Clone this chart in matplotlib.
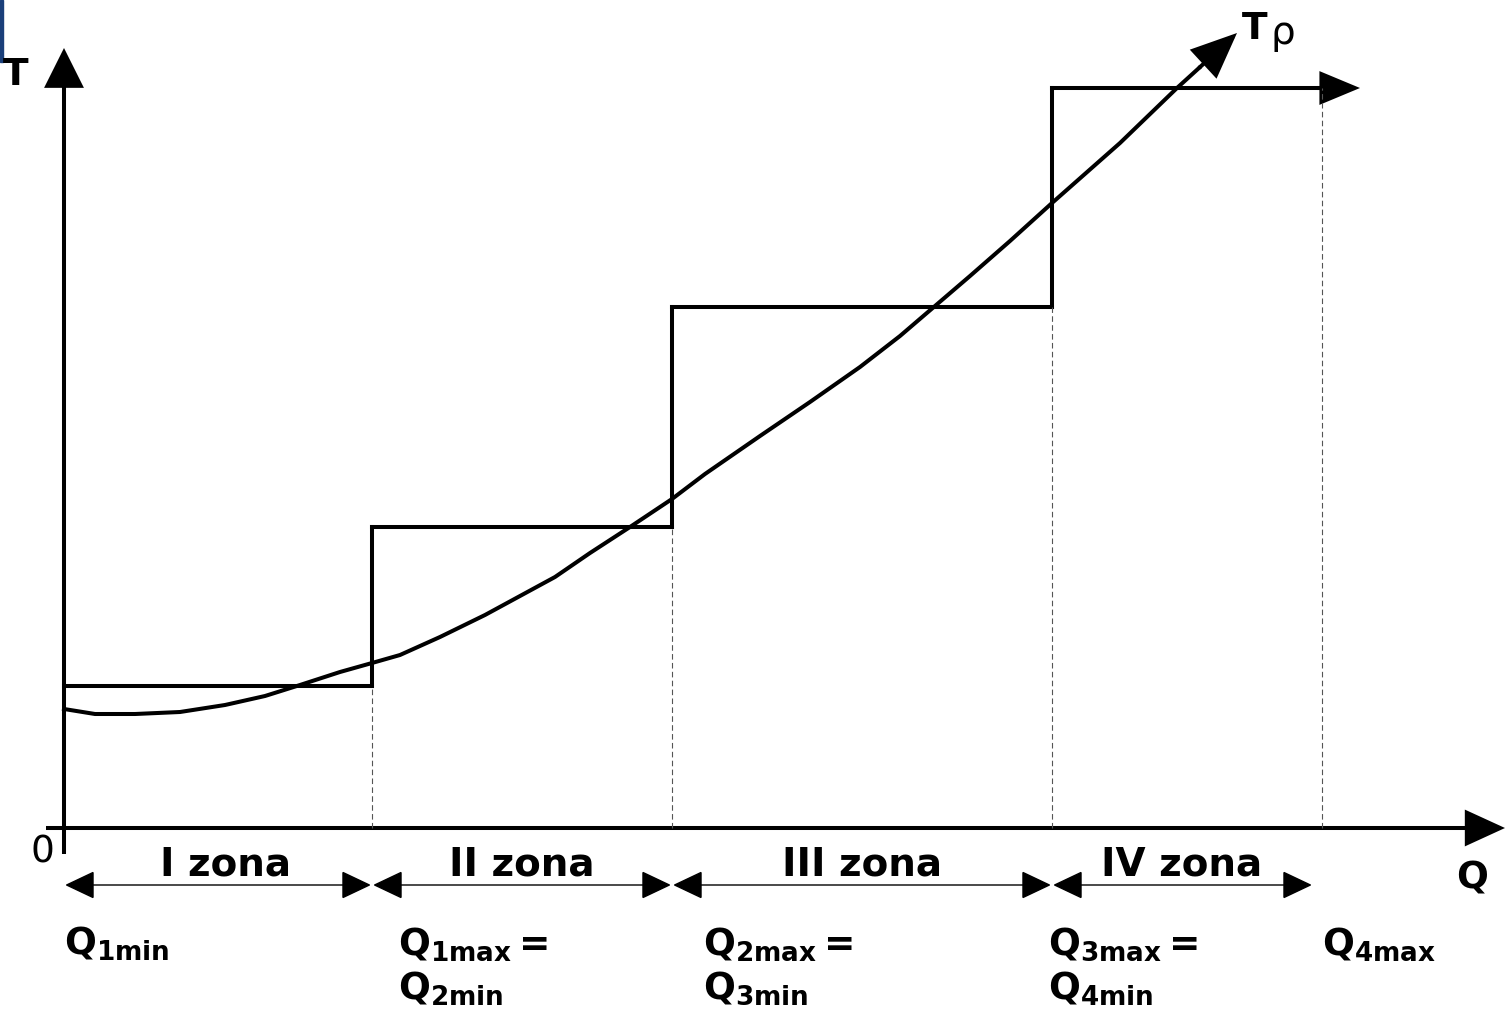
import matplotlib
matplotlib.use("Agg")
import matplotlib.pyplot as plt
from matplotlib.patches import FancyArrowPatch, Rectangle

# Zone boundaries on Q and step levels of T (drawing units, origin at axis corner)
q_bounds = [0, 308, 608, 988, 1258]
t_steps = [142, 301, 521, 740]

# Smooth curve T(Q)
curve_q = [0, 31, 71, 116, 161, 201, 236, 276, 308, 336, 376, 421, 456, 491,
           526, 566, 608, 641, 696, 746, 796, 836, 871, 906, 946, 988,
           1056, 1113, 1135]
curve_t = [119, 114, 114, 116, 123, 132, 143, 156, 165, 173, 191, 213, 232, 251,
           275, 301, 329, 354, 392, 426, 461, 492, 522, 552, 587, 625,
           685, 740, 760]
curve_tip = (1173, 795)

zone_labels = ["I zona", "II zona", "III zona", "IV zona"]
q_labels = [r"$\mathrm{Q}_{\mathrm{1min}}$",
            r"$\mathrm{Q}_{\mathrm{1max}}\,$=" + "\n" + r"$\mathrm{Q}_{\mathrm{2min}}$",
            r"$\mathrm{Q}_{\mathrm{2max}}\,$=" + "\n" + r"$\mathrm{Q}_{\mathrm{3min}}$",
            r"$\mathrm{Q}_{\mathrm{3max}}\,$=" + "\n" + r"$\mathrm{Q}_{\mathrm{4min}}$",
            r"$\mathrm{Q}_{\mathrm{4max}}$"]

plt.rcParams["font.family"] = ["DejaVu Sans"]
plt.rcParams["mathtext.fontset"] = "custom"
plt.rcParams["mathtext.rm"] = "DejaVu Sans:bold"
plt.rcParams["mathtext.bf"] = "DejaVu Sans:bold"
plt.rcParams["mathtext.it"] = "DejaVu Sans:bold"

fig = plt.figure(figsize=(15.07, 10.22), dpi=100)
ax = fig.add_axes([0, 0, 1, 1])
ax.set_xlim(-64, 1443)
ax.set_ylim(-194, 828)
ax.axis("off")

lw = 2.9


def arrow(p0, p1, style, lw_, hl, hw):
    a = FancyArrowPatch(p0, p1, arrowstyle=f"{style},head_length={hl},head_width={hw}",
                        mutation_scale=1, lw=lw_, color="black",
                        shrinkA=0, shrinkB=0, joinstyle="miter", capstyle="butt")
    ax.add_patch(a)


# axes with arrows
arrow((0, -26), (0, 780), "-|>", lw, 24, 12)
arrow((-18, 0), (1441, 0), "-|>", lw, 24, 11)

# step function
for i in range(4):
    ax.plot([q_bounds[i], q_bounds[i + 1]], [t_steps[i], t_steps[i]],
            color="black", lw=lw, solid_capstyle="projecting")
    if i > 0:
        ax.plot([q_bounds[i], q_bounds[i]], [t_steps[i - 1], t_steps[i]],
                color="black", lw=lw, solid_capstyle="projecting")
arrow((q_bounds[-1] - 5, t_steps[-1]), (q_bounds[-1] + 38, t_steps[-1]), "-|>", lw, 24, 10)

# dashed verticals at zone boundaries
for i in range(1, 5):
    top = t_steps[i - 1] if i < 4 else t_steps[-1]
    ax.plot([q_bounds[i], q_bounds[i]], [0, top], color="#555555", lw=0.8,
            ls=(0, (5, 3)))

# curve
ax.plot(curve_q, curve_t, color="black", lw=lw, solid_joinstyle="round")
arrow((curve_q[-1], curve_t[-1]), curve_tip, "-|>", lw, 28, 12)

# zone double arrows and labels
for i in range(4):
    x0 = q_bounds[i] + 1
    x1 = q_bounds[i + 1] - 1 if i < 3 else q_bounds[i + 1] - 10
    arrow((x0, -57), (x1, -57), "<|-|>", 1.0, 19, 9)
    ax.text((q_bounds[i] + x1) / 2 + (8 if i == 0 else 0), -36, zone_labels[i],
            ha="center", va="center", fontsize=28, fontweight="bold")

# Q labels under zones
q_label_x = [0, 334, 639, 984, 1258]
for x, s in zip(q_label_x, q_labels):
    ax.text(x, -97, s, ha="left", va="top", fontsize=27, fontweight="bold",
            linespacing=1.22)

# axis labels
ax.text(-48, 753, "T", ha="center", va="center", fontsize=27, fontweight="bold")
ax.text(1408, -50, "Q", ha="center", va="center", fontsize=27, fontweight="bold")
ax.text(-22, -24, "0", ha="center", va="center", fontsize=27)
ax.text(1178, 799, "T", ha="left", va="center", fontsize=27, fontweight="bold")
ax.text(1207, 795, "ρ", ha="left", va="center", fontsize=28)

# small blue mark at the top-left edge
ax.add_patch(Rectangle((-64, 766), 2.5, 62, color="#1a3f7a", clip_on=False))

fig.savefig("out.png", dpi=100)
